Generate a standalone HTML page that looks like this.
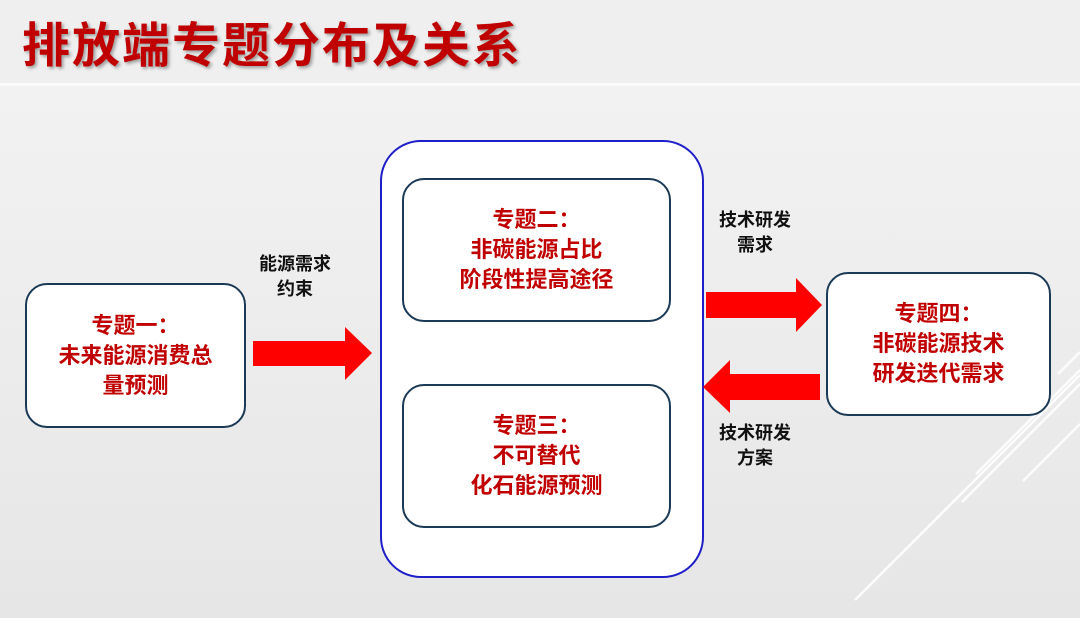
<!DOCTYPE html>
<html><head><meta charset="utf-8"><style>
body{margin:0;width:1080px;height:618px;overflow:hidden;background:linear-gradient(180deg,#f4f4f4 0%,#e6e6e6 100%);font-family:"Liberation Sans","Noto Sans CJK SC",sans-serif;position:relative}
.hdr{position:absolute;left:0;top:0;width:1080px;height:83px;background:#efefef;border-bottom:3px solid #fafafa}
.title{position:absolute;left:22px;top:15px;font-size:48px;font-weight:bold;color:#c00000;letter-spacing:2px;text-shadow:2px 2px 3px rgba(0,0,0,.35);line-height:64px}
.box{position:absolute;background:#fff;border:2px solid #1b3a55;border-radius:22px;box-sizing:border-box;display:flex;align-items:center;justify-content:center;text-align:center;color:#c00000;font-size:22px;font-weight:bold;line-height:30px}
.lbl{position:absolute;font-size:18px;font-weight:bold;line-height:25px;color:#111;text-align:center}
</style></head><body>
<div class="hdr"></div>
<div class="title">排放端专题分布及关系</div>
<svg width="1080" height="618" style="position:absolute;left:0;top:0">
<g stroke="#fff" stroke-width="2.5" opacity=".9">
<line x1="855" y1="600" x2="1080" y2="375"/>
<line x1="976" y1="474" x2="1080" y2="370"/>
<line x1="962" y1="502" x2="1080" y2="384"/>
<line x1="1023" y1="481" x2="1080" y2="424"/>
<line x1="1058" y1="374" x2="1080" y2="352"/>
</g>
<rect x="381" y="141" width="322" height="436" rx="40" fill="#fff" stroke="#1f1fc8" stroke-width="2"/>
<polygon points="253,341 345,341 345,327 372,353 345,380 345,366 253,366" fill="#f00"/>
<polygon points="706,292 796,292 796,278 822,305 796,332 796,318 706,318" fill="#f00"/>
<polygon points="820,374 730,374 730,360 703,387 730,413 730,400 820,400" fill="#f00"/>
</svg>
<div class="box" style="left:25px;top:283px;width:221px;height:145px">专题一：<br>未来能源消费总<br>量预测</div>
<div class="box" style="left:402px;top:178px;width:269px;height:144px">专题二：<br>非碳能源占比<br>阶段性提高途径</div>
<div class="box" style="left:402px;top:384px;width:269px;height:144px">专题三：<br>不可替代<br>化石能源预测</div>
<div class="box" style="left:826px;top:272px;width:225px;height:144px">专题四：<br>非碳能源技术<br>研发迭代需求</div>
<div class="lbl" style="left:250px;top:252px;width:90px">能源需求<br>约束</div>
<div class="lbl" style="left:705px;top:208px;width:100px">技术研发<br>需求</div>
<div class="lbl" style="left:705px;top:421px;width:100px">技术研发<br>方案</div>
</body></html>
